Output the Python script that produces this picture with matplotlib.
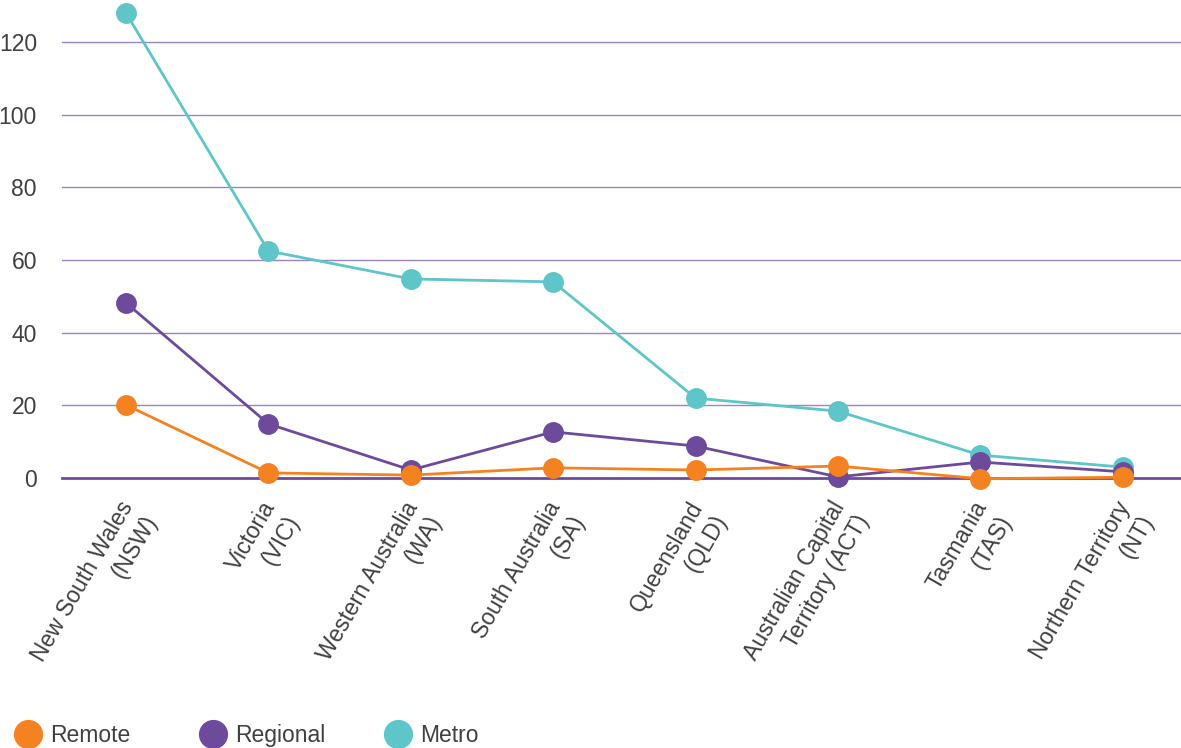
import matplotlib
matplotlib.use("Agg")
import matplotlib.pyplot as plt
import matplotlib.transforms as mtransforms
from matplotlib.lines import Line2D

# Data
STATES = [
    "New South Wales\n(NSW)",
    "Victoria\n(VIC)",
    "Western Australia\n(WA)",
    "South Australia\n(SA)",
    "Queensland\n(QLD)",
    "Australian Capital\nTerritory (ACT)",
    "Tasmania\n(TAS)",
    "Northern Territory\n(NT)",
]
REMOTE = [20.1, 1.4, 0.8, 2.8, 2.2, 3.3, -0.2, 0.2]
REGIONAL = [48.2, 14.9, 2.2, 12.7, 8.8, 0.3, 4.4, 1.7]
METRO = [128.0, 62.5, 54.8, 54.0, 22.0, 18.4, 6.3, 3.0]
Y_TICKS = [0, 20, 40, 60, 80, 100, 120]
SERIES_NAMES = ["Remote", "Regional", "Metro"]

ORANGE = "#f58220"
PURPLE = "#6d4a9c"
TEAL = "#5ec5c8"
TEXT = "#404040"

plt.rcParams["font.family"] = ["Liberation Sans", "DejaVu Sans"]

fig = plt.figure(figsize=(11.81, 7.48), dpi=100, facecolor="white")
ax = fig.add_axes([62 / 1181, 1 - 478 / 748, 1 - 62 / 1181, 478 / 748])

x = list(range(len(STATES)))
series = [(METRO, TEAL), (REGIONAL, PURPLE), (REMOTE, ORANGE)]
for values, color in series:
    ax.plot(x, values, color=color, linewidth=2, marker="o", markersize=14,
            clip_on=False, zorder=3)

ax.set_xlim(-0.45, 7.41)
ax.set_ylim(0, 131.6)
ax.set_yticks(Y_TICKS)
ax.set_yticklabels([str(t) for t in Y_TICKS])
for t in Y_TICKS[1:]:
    ax.axhline(t, color="#9b84c4", linewidth=1, zorder=1)
ax.axhline(0, color=PURPLE, linewidth=2, zorder=2, clip_on=False)

for spine in ax.spines.values():
    spine.set_visible(False)
ax.tick_params(axis="y", length=0, labelsize=16.5, labelcolor=TEXT, pad=18)
ax.tick_params(axis="x", length=0, labelsize=16.5, labelcolor=TEXT, pad=14)
ax.set_xticks(x)
ax.set_xticklabels(STATES, rotation=60, ha="right", va="top",
                   rotation_mode="anchor", multialignment="right")
# nudge the rotated labels a little to the left
shift = mtransforms.ScaledTranslation(-8 / 100, 0, fig.dpi_scale_trans)
for lbl in ax.get_xticklabels():
    lbl.set_linespacing(1.25)
    lbl.set_transform(lbl.get_transform() + shift)

# legend: one entry per fixed-width slot, as in the reference
colors = [ORANGE, PURPLE, TEAL]
slot_x = [0 / 1181, 185 / 1181, 370 / 1181]
for name, color, sx in zip(SERIES_NAMES, colors, slot_x):
    handle = Line2D([], [], linestyle="none", marker="o", markersize=20, color=color)
    leg = fig.legend([handle], [name], loc="lower left",
                     bbox_to_anchor=(sx, -0.02), frameon=False,
                     fontsize=16.5, handlelength=1.0, handletextpad=0.5,
                     borderaxespad=0.3)
    for txt in leg.get_texts():
        txt.set_color(TEXT)

fig.savefig("out.png", dpi=100, facecolor="white")
